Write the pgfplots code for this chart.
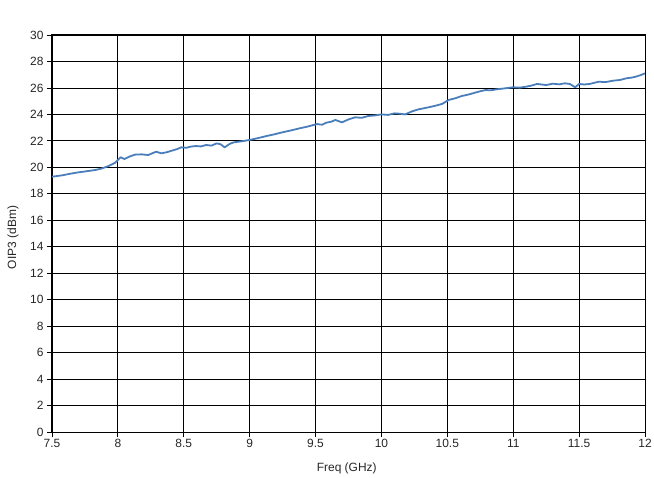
\documentclass[border=0pt]{standalone}
\usepackage{fontspec}
\setmainfont{Liberation Sans}
\usepackage{pgfplots}
\pgfplotsset{compat=1.18}
\definecolor{serieblue}{HTML}{4A7EBB}

\begin{document}
\begin{tikzpicture}
% fixed canvas around the plot area
\path[use as bounding box] (-52bp,-46bp) rectangle (602bp,432bp);
\begin{axis}[
  at={(0,0)}, anchor=south west,
  scale only axis, width=593bp, height=397bp,
  xmin=7.5, xmax=12, ymin=0, ymax=30,
  xtick={7.5,8,...,12}, ytick={0,2,...,30},
  grid=major,
  major grid style={black, line width=0.8bp},
  axis line style={black, line width=1bp},
  tick style={black, line width=0.8bp},
  tick align=outside, major tick length=5bp,
  xtick pos=left, ytick pos=left,
  /pgf/number format/assume math mode=true,
  tick label style={font=\fontsize{12}{14}\selectfont, text=black!85},
  xticklabel style={yshift=1bp},
  label style={font=\fontsize{12}{14}\selectfont, text=black!85},
  xlabel={Freq (GHz)}, ylabel={OIP3 (dBm)},
  xlabel style={at={(axis description cs:0.497,-0.0907)}, anchor=center},
  ylabel style={at={(axis description cs:-0.0658,0.49)}, anchor=center},
]
\addplot[serieblue, line width=1.8bp, line join=round] coordinates {
  (7.50,19.29) (7.58,19.40) (7.64,19.52) (7.70,19.62) (7.76,19.70)
  (7.83,19.80) (7.88,19.92) (7.93,20.10) (7.98,20.35) (8.02,20.76)
  (8.05,20.63) (8.09,20.82) (8.13,20.96) (8.18,20.98) (8.23,20.93)
  (8.29,21.18) (8.33,21.06) (8.37,21.14) (8.41,21.26) (8.45,21.38)
  (8.48,21.51) (8.52,21.48) (8.55,21.56) (8.59,21.61) (8.63,21.58)
  (8.67,21.69) (8.71,21.64) (8.75,21.81) (8.78,21.74) (8.81,21.51)
  (8.85,21.78) (8.88,21.89) (8.94,21.97) (9.00,22.07) (9.06,22.20)
  (9.13,22.37) (9.19,22.50) (9.25,22.65) (9.31,22.78) (9.38,22.95)
  (9.44,23.08) (9.51,23.27) (9.55,23.22) (9.58,23.37) (9.62,23.45)
  (9.65,23.58) (9.70,23.40) (9.75,23.62) (9.80,23.78) (9.85,23.74)
  (9.90,23.88) (9.95,23.92) (10.00,24.00) (10.05,23.96) (10.10,24.08)
  (10.14,24.05) (10.18,24.00) (10.23,24.22) (10.28,24.38) (10.34,24.50)
  (10.40,24.63) (10.46,24.79) (10.51,25.09) (10.56,25.22) (10.61,25.39)
  (10.66,25.50) (10.71,25.64) (10.75,25.75) (10.79,25.84) (10.83,25.82)
  (10.87,25.89) (10.93,25.96) (11.00,26.05) (11.05,26.02) (11.10,26.10)
  (11.14,26.18) (11.18,26.30) (11.25,26.22) (11.30,26.32) (11.35,26.27)
  (11.39,26.35) (11.43,26.30) (11.47,26.05) (11.50,26.30) (11.54,26.26)
  (11.58,26.30) (11.62,26.40) (11.65,26.47) (11.70,26.44) (11.76,26.55)
  (11.81,26.60) (11.86,26.73) (11.90,26.78) (11.93,26.85) (11.97,26.98)
  (12.00,27.10)
};
\node[font=\fontsize{12}{14}\selectfont, text=black!85] at (axis description cs:0.489,1.058)
  {Output 3rd Order Intercept Point (OIP3)};
\end{axis}
\end{tikzpicture}
\end{document}
